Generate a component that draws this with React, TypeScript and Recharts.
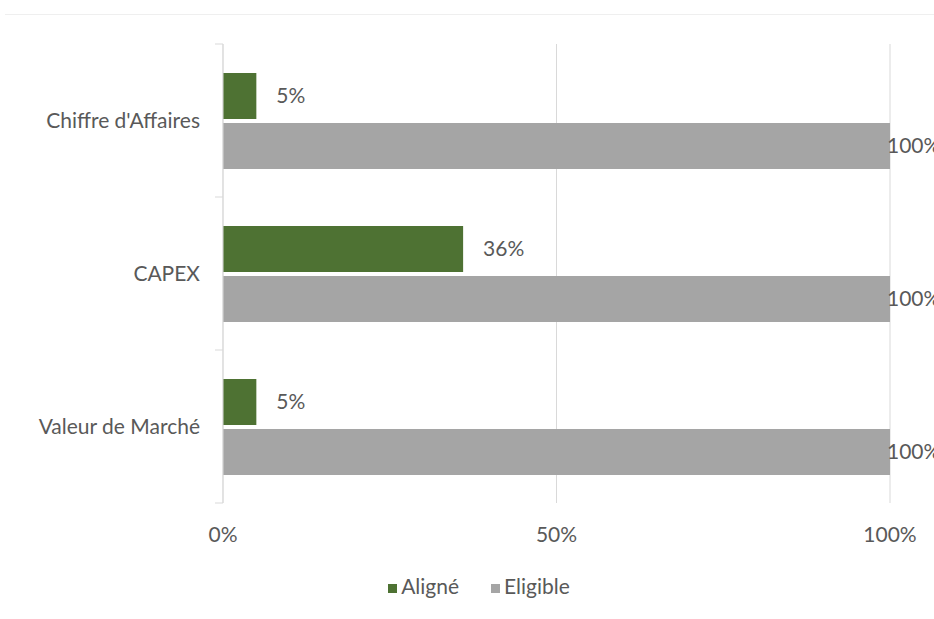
import { BarChart, Bar, XAxis, YAxis, CartesianGrid, Legend, LabelList } from "recharts";

const categories = ["Chiffre d'Affaires", "CAPEX", "Valeur de Marché"];
const aligne = [5, 36, 5];
const eligible = [100, 100, 100];
const xTicks = [0, 50, 100];

const data = categories.map((name, i) => ({
  name,
  aligne: aligne[i],
  eligible: eligible[i],
}));

const W = 934;
const H = 619;
const MARGIN = { top: 44, right: 44, bottom: 76, left: 0 };
const X_AXIS_H = 40;
const PLOT_H = H - MARGIN.top - MARGIN.bottom - X_AXIS_H;
const BAND = PLOT_H / categories.length;

const FONT = "Lato, 'Noto Sans', sans-serif";
const FS = 21;
const TEXT = "#595959";
const GRID = "#D9D9D9";
const GREEN = "#4E7233";
const GREY = "#A5A5A5";

// category labels sit in the band centre, but Excel puts the little tick
// marks on the band boundaries, so they are drawn here
function CategoryTick(props: any) {
  const { x, y, payload, index, visibleTicksCount } = props;
  const axisX = x + 23;
  return (
    <g>
      <line x1={axisX - 8} x2={axisX} y1={y - BAND / 2} y2={y - BAND / 2} stroke={GRID} />
      {index === visibleTicksCount - 1 && (
        <line x1={axisX - 8} x2={axisX} y1={y + BAND / 2} y2={y + BAND / 2} stroke={GRID} />
      )}
      <text x={x} y={y} dy="0.35em" textAnchor="end" fill={TEXT} fontSize={FS} fontFamily={FONT}>
        {payload.value}
      </text>
    </g>
  );
}

export default function App() {
  return (
    <div style={{ position: "relative", width: W, height: H, background: "#fff" }}>
      <style>{`body{margin:0}`}</style>
      <div
        style={{
          position: "absolute",
          top: 14,
          left: 5,
          right: 0,
          borderTop: "1px solid #EFEFEF",
        }}
      />
      <BarChart
        width={W}
        height={H}
        data={data}
        layout="vertical"
        margin={MARGIN}
        barSize={46}
        barGap={4}
      >
        <CartesianGrid horizontal={false} stroke={GRID} />
        <XAxis
          type="number"
          domain={[0, 100]}
          ticks={xTicks}
          tickFormatter={(v) => `${v}%`}
          axisLine={false}
          tickLine={false}
          tickSize={8}
          tickMargin={16}
          height={X_AXIS_H}
          tick={{ fill: TEXT, fontSize: FS, fontFamily: FONT }}
        />
        <YAxis
          type="category"
          dataKey="name"
          width={223}
          axisLine={{ stroke: GRID }}
          tickLine={false}
          tickSize={8}
          tickMargin={15}
          tick={<CategoryTick />}
        />
        <Legend
          layout="horizontal"
          align="center"
          verticalAlign="middle"
          iconType="square"
          iconSize={9}
          wrapperStyle={{ top: 573, left: 28, width: W, fontFamily: FONT, fontSize: FS }}
          formatter={(value) => (
            <span style={{ color: TEXT, paddingRight: 22 }}>{value}</span>
          )}
        />
        <Bar dataKey="aligne" name="Aligné" fill={GREEN} isAnimationActive={false}>
          <LabelList
            dataKey="aligne"
            position="right"
            offset={20}
            formatter={(v: any) => `${v}%`}
            fill={TEXT}
            fontSize={FS}
            fontFamily={FONT}
          />
        </Bar>
        <Bar dataKey="eligible" name="Eligible" fill={GREY} isAnimationActive={false}>
          <LabelList
            dataKey="eligible"
            position="right"
            offset={-3}
            formatter={(v: any) => `${v}%`}
            fill={TEXT}
            fontSize={FS}
            fontFamily={FONT}
          />
        </Bar>
      </BarChart>
    </div>
  );
}
